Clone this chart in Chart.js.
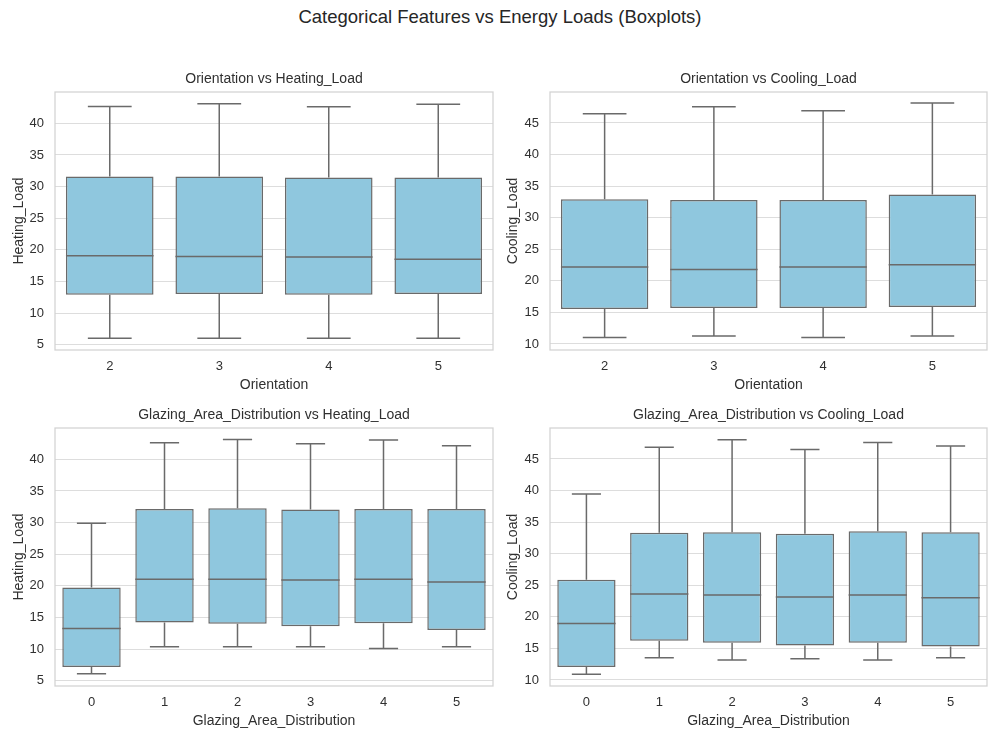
<!DOCTYPE html>
<html>
<head>
<meta charset="utf-8">
<script src="https://cdn.jsdelivr.net/npm/chart.js@4.4.0/dist/chart.umd.min.js"></script>
<style>
    body { margin: 0; background: #ffffff; font-family: "Liberation Sans", Arial, sans-serif; }
    #page { position: relative; width: 1000px; height: 750px; overflow: hidden; }
    #mainTitle { position: absolute; top: 6px; left: 0; width: 1000px; text-align: center; font-size: 18.5px; color: #262626; }
    .panel { position: absolute; }
</style>
</head>
<body>
<div id="page">
    <div id="mainTitle">Categorical Features vs Energy Loads (Boxplots)</div>
    <canvas class="panel" id="orientHeat" width="500" height="340" style="left:0px;top:60px"></canvas>
    <canvas class="panel" id="orientCool" width="500" height="340" style="left:500px;top:60px"></canvas>
    <canvas class="panel" id="glazeHeat" width="500" height="340" style="left:0px;top:396px"></canvas>
    <canvas class="panel" id="glazeCool" width="500" height="340" style="left:500px;top:396px"></canvas>
</div>
<script>
// categories
const orientationCats = ['2', '3', '4', '5'];
const glazingCats = ['0', '1', '2', '3', '4', '5'];

// tick labels
const heatTicks = [5, 10, 15, 20, 25, 30, 35, 40];
const coolTicks = [10, 15, 20, 25, 30, 35, 40, 45];

// Orientation vs Heating_Load
const ohMin = [6.0, 6.0, 6.0, 6.0];
const ohQ1 = [12.9, 13.0, 12.9, 13.0];
const ohMed = [19.05, 18.95, 18.85, 18.5];
const ohQ3 = [31.6, 31.6, 31.45, 31.45];
const ohMax = [42.65, 43.1, 42.6, 43.0];

// Orientation vs Cooling_Load
const ocMin = [11.0, 11.25, 11.0, 11.25];
const ocQ1 = [15.55, 15.7, 15.7, 15.85];
const ocMed = [22.2, 21.8, 22.2, 22.55];
const ocQ3 = [32.9, 32.8, 32.8, 33.65];
const ocMax = [46.45, 47.55, 46.95, 48.15];

// Glazing_Area_Distribution vs Heating_Load
const ghMin = [6.1, 10.35, 10.35, 10.35, 10.1, 10.35];
const ghQ1 = [7.15, 14.2, 14.0, 13.6, 14.1, 13.0];
const ghMed = [13.25, 21.05, 21.05, 20.9, 21.05, 20.6];
const ghQ3 = [19.75, 32.15, 32.25, 32.05, 32.15, 32.15];
const ghMax = [29.9, 42.6, 43.15, 42.45, 43.05, 42.15];

// Glazing_Area_Distribution vs Cooling_Load
const gcMin = [10.9, 13.5, 13.15, 13.35, 13.15, 13.5];
const gcQ1 = [12.05, 16.2, 15.9, 15.45, 15.9, 15.3];
const gcMed = [18.95, 23.6, 23.45, 23.15, 23.45, 23.0];
const gcQ3 = [25.85, 33.3, 33.4, 33.15, 33.55, 33.4];
const gcMax = [39.45, 46.85, 48.05, 46.5, 47.6, 47.05];

const boxFill = '#8fc7de';
const boxLine = '#6a6a6a';
const gridColor = '#dddddd';
const frameColor = '#d2d2d2';
const textColor = '#303030';
const fontFamily = '"Liberation Sans", Arial, sans-serif';

// whiskers, caps and median lines drawn through the chart's scales
const boxExtras = {
    id: 'boxExtras',
    afterDatasetsDraw(chart, args, opts) {
        const ctx = chart.ctx;
        const x = chart.scales.x;
        const y = chart.scales.y;
        const bars = chart.getDatasetMeta(0).data;
        ctx.save();
        ctx.strokeStyle = boxLine;
        ctx.lineWidth = 1.5;
        bars.forEach((bar, i) => {
            const cx = x.getPixelForValue(i);
            const half = bar.width / 2;
            const capHalf = bar.width / 4;
            const yMin = y.getPixelForValue(opts.min[i]);
            const yMax = y.getPixelForValue(opts.max[i]);
            const yQ1 = y.getPixelForValue(opts.q1[i]);
            const yQ3 = y.getPixelForValue(opts.q3[i]);
            const yMed = y.getPixelForValue(opts.med[i]);
            ctx.beginPath();
            ctx.moveTo(cx, yQ3); ctx.lineTo(cx, yMax);
            ctx.moveTo(cx - capHalf, yMax); ctx.lineTo(cx + capHalf, yMax);
            ctx.moveTo(cx, yQ1); ctx.lineTo(cx, yMin);
            ctx.moveTo(cx - capHalf, yMin); ctx.lineTo(cx + capHalf, yMin);
            ctx.moveTo(cx - half, yMed); ctx.lineTo(cx + half, yMed);
            ctx.stroke();
        });
        const a = chart.chartArea;
        ctx.strokeStyle = frameColor;
        ctx.lineWidth = 1.25;
        ctx.strokeRect(a.left, a.top, a.right - a.left, a.bottom - a.top);
        ctx.restore();
    }
};

function makeBoxChart(id, cfg) {
    const ctx = document.getElementById(id).getContext('2d');
    return new Chart(ctx, {
        type: 'bar',
        data: {
            labels: cfg.labels,
            datasets: [{
                data: cfg.q1.map((v, i) => [v, cfg.q3[i]]),
                backgroundColor: boxFill,
                borderColor: boxLine,
                borderWidth: 1.5,
                borderSkipped: false,
                barPercentage: 0.8,
                categoryPercentage: 1.0
            }]
        },
        options: {
            responsive: false,
            animation: false,
            layout: { padding: { left: 0, right: cfg.rightPad, top: 0, bottom: 0 } },
            plugins: {
                legend: { display: false },
                tooltip: { enabled: false },
                title: {
                    display: true,
                    text: cfg.title,
                    fullSize: false,
                    color: textColor,
                    font: { family: fontFamily, size: 14, weight: 'normal' },
                    padding: { top: 10.5, bottom: 4.7 }
                },
                boxExtras: { min: cfg.min, q1: cfg.q1, med: cfg.med, q3: cfg.q3, max: cfg.max }
            },
            scales: {
                x: {
                    type: 'category',
                    offset: true,
                    grid: { display: false, drawTicks: false },
                    border: { display: false },
                    ticks: { color: textColor, padding: 9, font: { family: fontFamily, size: 13 } },
                    title: {
                        display: true,
                        text: cfg.xTitle,
                        color: textColor,
                        font: { family: fontFamily, size: 14 },
                        padding: { top: 0, bottom: 6.5 }
                    },
                    afterFit(scale) { scale.height = 50; }
                },
                y: {
                    min: cfg.yMin,
                    max: cfg.yMax,
                    grid: { color: gridColor, lineWidth: 1, drawTicks: false },
                    border: { display: false },
                    ticks: { color: textColor, padding: 11, font: { family: fontFamily, size: 13 } },
                    afterBuildTicks(scale) { scale.ticks = cfg.ticks.map(v => ({ value: v })); },
                    title: {
                        display: true,
                        text: cfg.yTitle,
                        color: textColor,
                        font: { family: fontFamily, size: 14 },
                        padding: { top: cfg.yTitlePad, bottom: 0 }
                    },
                    afterFit(scale) { scale.width = cfg.yWidth; }
                }
            }
        },
        plugins: [boxExtras]
    });
}

window.addEventListener('load', function () {
    makeBoxChart('orientHeat', {
        labels: orientationCats, title: 'Orientation vs Heating_Load',
        xTitle: 'Orientation', yTitle: 'Heating_Load',
        min: ohMin, q1: ohQ1, med: ohMed, q3: ohQ3, max: ohMax,
        ticks: heatTicks, yMin: 4.16, yMax: 44.95,
        yWidth: 55, yTitlePad: 11, rightPad: 7
    });
    makeBoxChart('orientCool', {
        labels: orientationCats, title: 'Orientation vs Cooling_Load',
        xTitle: 'Orientation', yTitle: 'Cooling_Load',
        min: ocMin, q1: ocQ1, med: ocMed, q3: ocQ3, max: ocMax,
        ticks: coolTicks, yMin: 9.04, yMax: 49.9,
        yWidth: 50, yTitlePad: 4.6, rightPad: 13
    });
    makeBoxChart('glazeHeat', {
        labels: glazingCats, title: 'Glazing_Area_Distribution vs Heating_Load',
        xTitle: 'Glazing_Area_Distribution', yTitle: 'Heating_Load',
        min: ghMin, q1: ghQ1, med: ghMed, q3: ghQ3, max: ghMax,
        ticks: heatTicks, yMin: 4.16, yMax: 44.95,
        yWidth: 55, yTitlePad: 11, rightPad: 7
    });
    makeBoxChart('glazeCool', {
        labels: glazingCats, title: 'Glazing_Area_Distribution vs Cooling_Load',
        xTitle: 'Glazing_Area_Distribution', yTitle: 'Cooling_Load',
        min: gcMin, q1: gcQ1, med: gcMed, q3: gcQ3, max: gcMax,
        ticks: coolTicks, yMin: 9.04, yMax: 49.9,
        yWidth: 50, yTitlePad: 4.6, rightPad: 13
    });
});
</script>
</body>
</html>
